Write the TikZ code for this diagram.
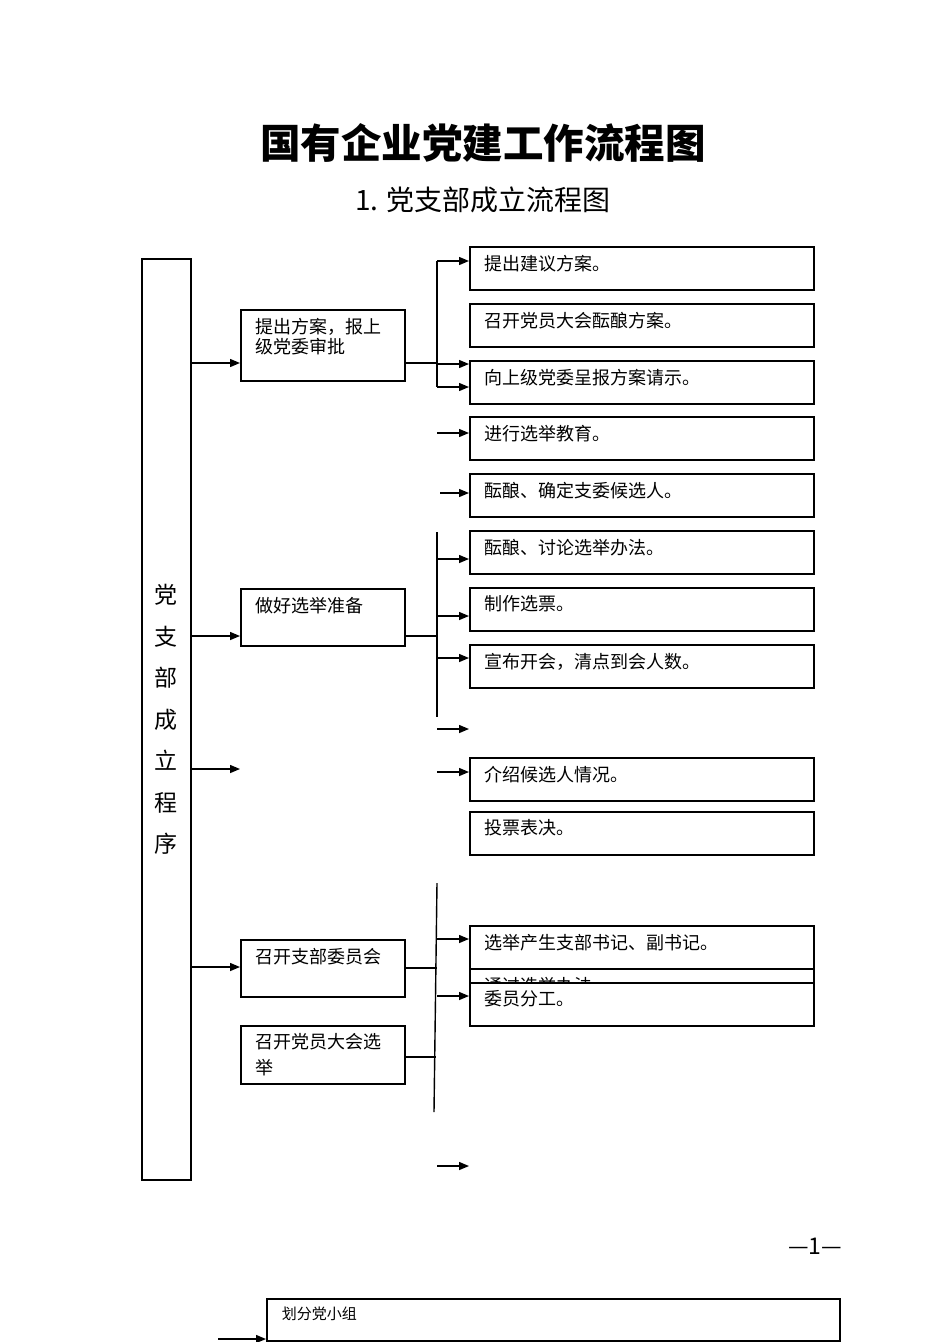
\documentclass[tikz,border=0pt]{standalone}
\usepackage{fontspec}
\setmainfont{Noto Sans CJK SC}
\usetikzlibrary{arrows.meta,positioning}
\tikzset{
  box/.style={draw,line width=1.7pt,anchor=north west,inner xsep=15pt,inner ysep=8pt,font=\fontsize{18}{20}\selectfont},
  arr/.style={line width=1.4pt,-{Triangle[length=10pt,width=8pt]}},
  link/.style={line width=1.4pt}
}
\newcommand{\cell}[3]{\parbox[c][#1][t]{#2}{\raggedright #3}}

\begin{document}
\begin{tikzpicture}[x=1pt,y=-1pt]
  \useasboundingbox (0,0) rectangle (950,1342);

  % titles
  \node[font=\fontsize{40.5}{44}\selectfont\bfseries] (title) at (483,143) {国有企业党建工作流程图};
  \node[font=\fontsize{28}{30}\selectfont] (subtitle) at (483,200) {1. 党支部成立流程图};

  % left column
  \node[draw,line width=1.7pt,anchor=north west,minimum width=49pt,minimum height=921pt,inner sep=0pt,
        align=center,font=\fontsize{23}{41.5}\selectfont] (side) at (141,258) {党\\支\\部\\成\\立\\程\\序};

  \node[box] (propose) at (240,309) {\cell{55pt}{134pt}{提出方案，报上\\级党委审批}};
  \node[box] (prepare) at (240,588) {\cell{41pt}{134pt}{做好选举准备}};
  \node[box] (committee) at (240,939) {\cell{41pt}{134pt}{召开支部委员会}};
  \node[box] (congress) at (240,1025) {\cell{42pt}{134pt}{召开党员大会选\\[6pt]举}};

  % right column
  \node[box] (suggest) at (469,246) {\cell{27pt}{314pt}{提出建议方案。}};
  \node[box] (discuss) at (469,303) {\cell{27pt}{314pt}{召开党员大会酝酿方案。}};
  \node[box] (report) at (469,360) {\cell{27pt}{314pt}{向上级党委呈报方案请示。}};
  \node[box] (educate) at (469,416) {\cell{27pt}{314pt}{进行选举教育。}};
  \node[box] (nominate) at (469,473) {\cell{27pt}{314pt}{酝酿、确定支委候选人。}};
  \node[box] (method) at (469,530) {\cell{27pt}{314pt}{酝酿、讨论选举办法。}};
  \node[box] (ballot) at (469,587) {\cell{27pt}{314pt}{制作选票。}};
  \node[box] (opening) at (469,644) {\cell{27pt}{314pt}{宣布开会，清点到会人数。}};
  \node[box] (introduce) at (469,757) {\cell{27pt}{314pt}{介绍候选人情况。}};
  \node[box] (vote) at (469,811) {\cell{27pt}{314pt}{投票表决。}};
  \node[box] (elect) at (469,925) {\cell{27pt}{314pt}{选举产生支部书记、副书记。}};
  \node[box] (adopt) at (469,968) {\cell{27pt}{314pt}{通过选举办法}};
  \node[box,fill=white] (divide) at (469,982) {\cell{27pt}{314pt}{委员分工。}};

  % sidebar arrows
  \coordinate (s1) at (190,363);
  \coordinate (s2) at (190,636);
  \coordinate (s3) at (190,769);
  \coordinate (s3e) at (240,769);
  \coordinate (s4) at (190,967);
  \draw[arr] (s1) -- (s1 -| propose.west);
  \draw[arr] (s2) -- (s2 -| prepare.west);
  \draw[arr] (s3) -- (s3e);
  \draw[arr] (s4) -- (s4 -| committee.west);

  % first group
  \coordinate (a0) at (437,363);
  \coordinate (a1) at (437,261);
  \coordinate (a2) at (437,364);
  \coordinate (a3) at (437,387);
  \draw[link] (propose.east |- a0) -- (a0);
  \draw[link] (a1) -- (a3);
  \draw[arr] (a1) -- (a1 -| suggest.west);
  \draw[arr] (a2) -- (a2 -| report.west);
  \draw[arr] (a3) -- (a3 -| report.west);
  \coordinate (a4) at (437,433);
  \coordinate (a5) at (440,493);
  \draw[arr] (a4) -- (a4 -| educate.west);
  \draw[arr] (a5) -- (a5 -| nominate.west);

  % second group
  \coordinate (b0) at (437,636);
  \coordinate (btop) at (437,532);
  \coordinate (bbot) at (437,717);
  \coordinate (b1) at (437,559);
  \coordinate (b2) at (437,616);
  \coordinate (b3) at (437,658);
  \draw[link] (prepare.east |- b0) -- (b0);
  \draw[link] (btop) -- (bbot);
  \draw[arr] (b1) -- (b1 -| method.west);
  \draw[arr] (b2) -- (b2 -| ballot.west);
  \draw[arr] (b3) -- (b3 -| opening.west);
  \coordinate (b4) at (437,729);
  \coordinate (b4e) at (469,729);
  \coordinate (b5) at (437,772);
  \draw[arr] (b4) -- (b4e);
  \draw[arr] (b5) -- (b5 -| introduce.west);

  % third group
  \coordinate (ctop) at (437,883);
  \coordinate (cbot) at (434,1112);
  \coordinate (c0) at (437,968);
  \coordinate (c1) at (437,939);
  \coordinate (c2) at (437,996);
  \coordinate (d0) at (436,1057);
  \draw[link] (ctop) -- (cbot);
  \draw[link] (committee.east |- c0) -- (c0);
  \draw[link] (congress.east |- d0) -- (d0);
  \draw[arr] (c1) -- (c1 -| elect.west);
  \draw[arr] (c2) -- (c2 -| divide.west);
  \coordinate (c3) at (437,1166);
  \coordinate (c3e) at (469,1166);
  \draw[arr] (c3) -- (c3e);

  % page number
  \node[font=\fontsize{23}{25}\selectfont] (page) at (815,1246) {—1—};

  % next page
  \node[box,font=\fontsize{15}{18}\selectfont] (group) at (266,1298) {\cell{26pt}{543pt}{划分党小组}};
  \coordinate (g0) at (218,1339);
  \draw[arr] (g0) -- (g0 -| group.west);
\end{tikzpicture}
\end{document}
